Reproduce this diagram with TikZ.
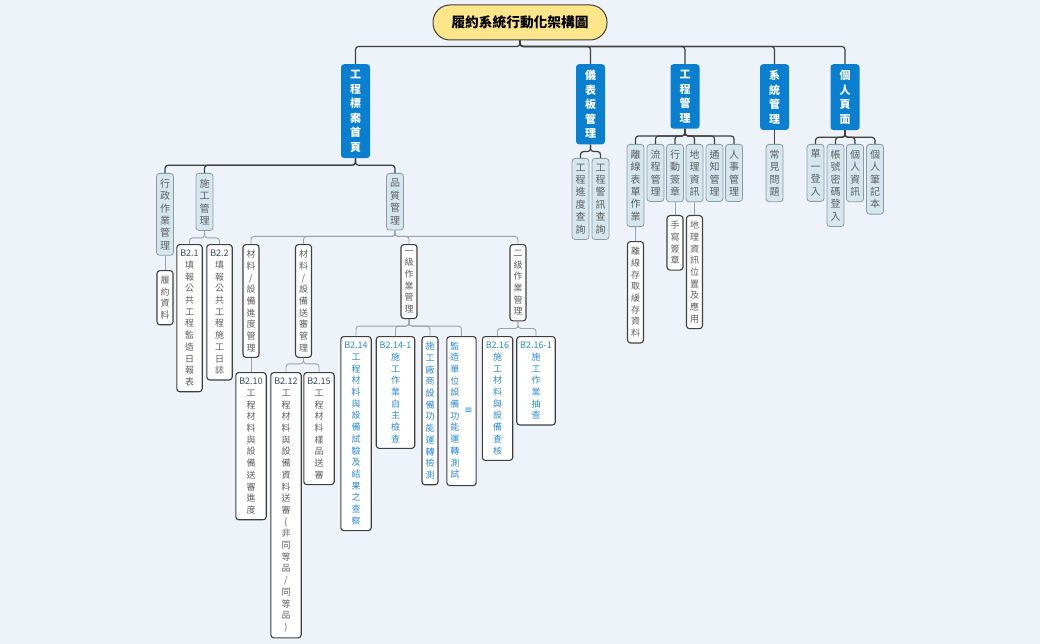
\documentclass[tikz,border=0pt]{standalone}
\usepackage{fontspec}
\setmainfont{Noto Sans CJK TC}
\newfontfamily\symfont{DejaVu Sans}
\usetikzlibrary{positioning,calc}
\definecolor{bgcol}{HTML}{EDF3F9}
\definecolor{rootfill}{HTML}{FDE58A}
\definecolor{topblue}{HTML}{0A7FCF}
\definecolor{lightfill}{HTML}{D4E6EE}
\definecolor{lightline}{HTML}{8C9CA3}
\definecolor{txtgrey}{HTML}{5F5F5F}
\definecolor{codenavy}{HTML}{3B4A66}
\definecolor{linkblue}{HTML}{2A8AD4}
\definecolor{darkline}{HTML}{3F3F3F}
\definecolor{softline}{HTML}{9AA3A8}

\begin{document}
\begin{tikzpicture}[x=1pt, y=-1pt,
    rootbox/.style={draw=darkline, line width=1pt, fill=rootfill, rounded corners=17pt, minimum width=174pt, minimum height=35pt, font=\fontsize{13.7}{16}\selectfont\bfseries},
    topbox/.style={fill=topblue, text=white, rounded corners=3pt, align=center, inner xsep=9pt, inner ysep=6pt, anchor=north, font=\fontsize{11}{14.5}\selectfont\bfseries},
    subbox/.style={draw=lightline, line width=0.8pt, fill=lightfill, text=txtgrey, rounded corners=3pt, align=center, inner xsep=3.5pt, inner ysep=5.5pt, anchor=north, font=\fontsize{10}{12.4}\selectfont},
    leafbox/.style={draw=darkline, line width=1.1pt, fill=white, text=txtgrey, rounded corners=3pt, align=center, inner xsep=3.5pt, inner ysep=5.6pt, anchor=north, font=\fontsize{9}{11.7}\selectfont},
    bluetxt/.style={text=linkblue},
    mainlink/.style={draw=darkline, line width=1.2pt, rounded corners=3pt},
    sublink/.style={draw=softline, line width=0.9pt, rounded corners=3pt}]
    \useasboundingbox (0,0) rectangle (1040,644);
    \fill[bgcol] (0,0) rectangle (1040,644);

    \node (root) [rootbox] at (520,22.5) {履約系統行動化架構圖};

    \node (gcbd) [topbox] at (355.5,64) {工\\程\\標\\案\\首\\頁};
    \node (ybb)  [topbox] at (590.5,64) {儀\\表\\板\\管\\理};
    \node (gcgl) [topbox] at (685,64)   {工\\程\\管\\理};
    \node (xtgl) [topbox] at (774.5,64) {系\\統\\管\\理};
    \node (grym) [topbox] at (845,64)   {個\\人\\頁\\面};

    \node (xzzy) [subbox] at (165,173)   {行\\政\\作\\業\\管\\理};
    \node (sggl) [subbox] at (204.5,173) {施\\工\\管\\理};
    \node (pzgl) [subbox] at (395,173)   {品\\質\\管\\理};
    \node (gcjd) [subbox] at (580.5,158) {工\\程\\進\\度\\查\\詢};
    \node (gcjx) [subbox] at (600.5,158) {工\\程\\警\\訊\\查\\詢};
    \node (lxbd) [subbox] at (635.5,144) {離\\線\\表\\單\\作\\業};
    \node (lcgl) [subbox] at (655.5,144) {流\\程\\管\\理};
    \node (xdqz) [subbox] at (675,144)   {行\\動\\簽\\章};
    \node (dlzx) [subbox] at (694.5,144) {地\\理\\資\\訊};
    \node (tzgl) [subbox] at (714.5,144) {通\\知\\管\\理};
    \node (rsgl) [subbox] at (734,144)   {人\\事\\管\\理};
    \node (cjwt) [subbox] at (774.5,144) {常\\見\\問\\題};
    \node (dydr) [subbox] at (815.5,144) {單\\一\\登\\入};
    \node (zhmm) [subbox] at (835.5,144) {帳\\號\\密\\碼\\登\\入};
    \node (grzx) [subbox] at (855,144)   {個\\人\\資\\訊};
    \node (grbj) [subbox] at (875,144)   {個\\人\\筆\\記\\本};

    \node (lyzl) [leafbox] at (165,270)   {履\\約\\資\\料};
    \node (b21)  [leafbox] at (189.5,244) {\textcolor{codenavy}{B2.1}\\填\\報\\公\\共\\工\\程\\監\\造\\日\\報\\表};
    \node (b22)  [leafbox] at (219.5,244) {\textcolor{codenavy}{B2.2}\\填\\報\\公\\共\\工\\程\\施\\工\\日\\誌};
    \node (cljd) [leafbox] at (251,244)   {材\\料\\/\\設\\備\\進\\度\\管\\理};
    \node (clss) [leafbox] at (303.5,244) {材\\料\\/\\設\\備\\送\\審\\管\\理};
    \node (yjzy) [leafbox] at (409,244)   {一\\級\\作\\業\\管\\理};
    \node (ejzy) [leafbox] at (518,244)   {二\\級\\作\\業\\管\\理};
    \node (lxcq) [leafbox] at (635.5,241) {離\\線\\存\\取\\緩\\存\\資\\料};
    \node (sxqz) [leafbox] at (675,215)   {手\\寫\\簽\\章};
    \node (dlwz) [leafbox] at (694.5,215) {地\\理\\資\\訊\\位\\置\\及\\應\\用};

    \node (b210) [leafbox] at (251,372)   {\textcolor{codenavy}{B2.10}\\工\\程\\材\\料\\與\\設\\備\\送\\審\\進\\度};
    \node (b212) [leafbox] at (286,372)   {\textcolor{codenavy}{B2.12}\\工\\程\\材\\料\\與\\設\\備\\資\\料\\送\\審\\(\\非\\同\\等\\品\\/\\同\\等\\品\\)};
    \node (b215) [leafbox] at (319,372)   {\textcolor{codenavy}{B2.15}\\工\\程\\材\\料\\樣\\品\\送\\審};
    \node (b214) [leafbox, bluetxt] at (356,336)   {B2.14\\工\\程\\材\\料\\與\\設\\備\\試\\驗\\及\\結\\果\\之\\查\\察};
    \node (b2141) [leafbox, bluetxt] at (395.5,336) {B2.14-1\\施\\工\\作\\業\\自\\主\\檢\\查};
    \node (sgcs) [leafbox, bluetxt] at (430,336)   {施\\工\\廠\\商\\設\\備\\功\\能\\運\\轉\\檢\\測};
    \node (jzdw) [leafbox, bluetxt, inner xsep=3.5pt, inner ysep=4.3pt] at (461.5,336)
                 {\begin{tabular}{@{}c@{}}監\\造\\單\\位\\設\\備\\功\\能\\運\\轉\\測\\試\end{tabular}\hspace{5pt}\textcolor{linkblue}{\symfont\fontsize{10}{12}\selectfont ≡}};
    \node (b216) [leafbox, bluetxt] at (497.5,336) {B2.16\\施\\工\\材\\料\\與\\設\\備\\查\\核};
    \node (b2161) [leafbox, bluetxt] at (536,336)  {B2.16-1\\施\\工\\作\\業\\抽\\查};

    \foreach \n in {gcbd,ybb,gcgl,xtgl,grym}
      \draw[mainlink] (root.south) -- ++(0,6) -| (\n.north);
    \foreach \n in {xzzy,sggl,pzgl}
      \draw[mainlink] (gcbd.south) -- ++(0,7) -| (\n.north);
    \foreach \n in {gcjd,gcjx}
      \draw[mainlink] (ybb.south) -- ++(0,7) -| (\n.north);
    \foreach \n in {lxbd,lcgl,xdqz,dlzx,tzgl,rsgl}
      \draw[mainlink] (gcgl.south) -- ++(0,7) -| (\n.north);
    \draw[mainlink] (xtgl.south) -- (cjwt.north);
    \foreach \n in {dydr,zhmm,grzx,grbj}
      \draw[mainlink] (grym.south) -- ++(0,7) -| (\n.north);

    \draw[sublink] (xzzy.south) -- (lyzl.north);
    \foreach \n in {b21,b22}
      \draw[sublink] (sggl.south) -- ++(0,7) -| (\n.north);
    \foreach \n in {cljd,clss,yjzy,ejzy}
      \draw[sublink] (pzgl.south) -- ++(0,6) -| (\n.north);
    \draw[sublink] (lxbd.south) -- (lxcq.north);
    \draw[sublink] (xdqz.south) -- (sxqz.north);
    \draw[sublink] (dlzx.south) -- (dlwz.north);
    \draw[sublink] (cljd.south) -- (b210.north);
    \foreach \n in {b212,b215}
      \draw[sublink] (clss.south) -- ++(0,6) -| (\n.north);
    \foreach \n in {b214,b2141,sgcs,jzdw}
      \draw[sublink] (yjzy.south) -- ++(0,7) -| (\n.north);
    \foreach \n in {b216,b2161}
      \draw[sublink] (ejzy.south) -- ++(0,7) -| (\n.north);
  \end{tikzpicture}
\end{document}
